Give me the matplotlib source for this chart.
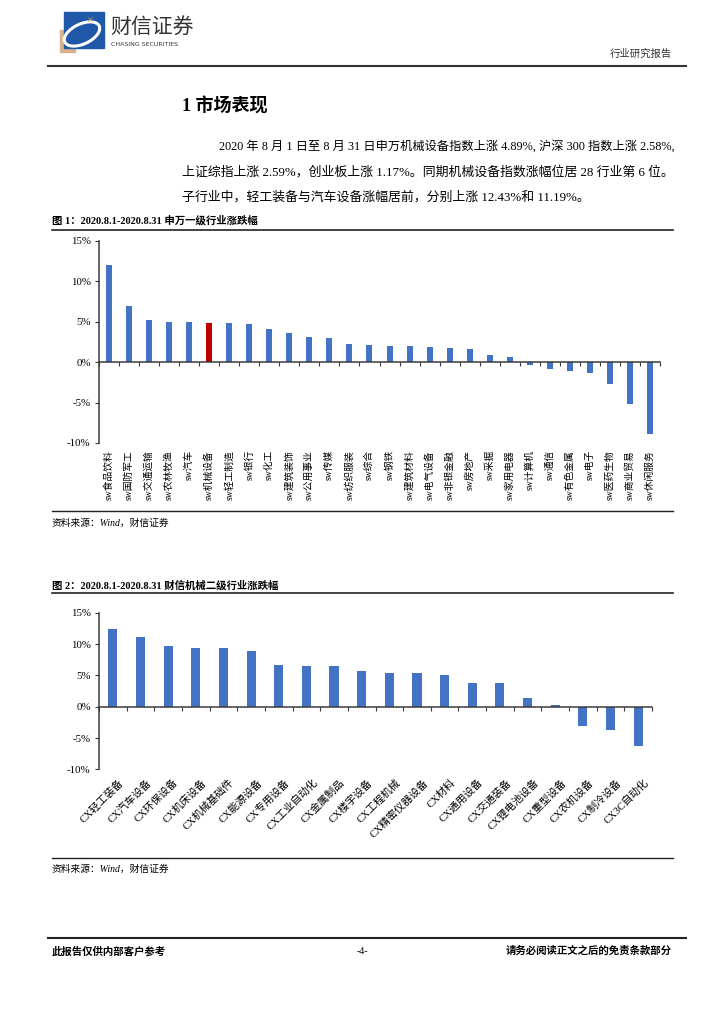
import numpy as np
import matplotlib.pyplot as plt
from matplotlib.patches import Rectangle, Ellipse

W, H = 724, 1024

# 图1 申万一级行业涨跌幅 (%)
sw_names = ['sw食品饮料', 'sw国防军工', 'sw交通运输', 'sw农林牧渔', 'sw汽车', 'sw机械设备',
            'sw轻工制造', 'sw银行', 'sw化工', 'sw建筑装饰', 'sw公用事业', 'sw传媒',
            'sw纺织服装', 'sw综合', 'sw钢铁', 'sw建筑材料', 'sw电气设备', 'sw非银金融',
            'sw房地产', 'sw采掘', 'sw家用电器', 'sw计算机', 'sw通信', 'sw有色金属',
            'sw电子', 'sw医药生物', 'sw商业贸易', 'sw休闲服务']
sw_chg = [12.08, 6.99, 5.28, 5.0, 4.98, 4.89, 4.85, 4.73, 4.07, 3.62, 3.08, 2.96,
          2.3, 2.18, 2.05, 1.97, 1.85, 1.73, 1.6, 0.95, 0.7, -0.29, -0.86, -1.03,
          -1.36, -2.75, -5.14, -8.88]
sw_highlight = 'sw机械设备'

# 图2 财信机械二级行业涨跌幅 (%)
cx_names = ['CX轻工装备', 'CX汽车设备', 'CX环保设备', 'CX机床设备', 'CX机械基础件',
            'CX能源设备', 'CX专用设备', 'CX工业自动化', 'CX金属制品', 'CX楼宇设备',
            'CX工程机械', 'CX精密仪器设备', 'CX材料', 'CX通用设备', 'CX交通装备',
            'CX锂电池设备', 'CX重型设备', 'CX农机设备', 'CX制冷设备', 'CX3C自动化']
cx_chg = [12.43, 11.19, 9.73, 9.31, 9.3, 8.88, 6.7, 6.54, 6.53, 5.64,
          5.37, 5.36, 5.05, 3.72, 3.71, 1.33, 0.32, -3.09, -3.67, -6.2]

yticks = [-10, -5, 0, 5, 10, 15]
ytick_labels = ['-10%', '-5%', '0%', '5%', '10%', '15%']

para = ['2020 年 8 月 1 日至 8 月 31 日申万机械设备指数上涨 4.89%, 沪深 300 指数上涨 2.58%,',
        '上证综指上涨 2.59%，创业板上涨 1.17%。同期机械设备指数涨幅位居 28 行业第 6 位。',
        '子行业中，轻工装备与汽车设备涨幅居前，分别上涨 12.43%和 11.19%。']

FAM = ['Liberation Serif', 'Noto Sans CJK SC']
BLUE = '#4472C4'
RED = '#C00000'
AX = '#3a3a3a'

plt.rcParams['font.family'] = FAM

fig = plt.figure(figsize=(W / 100, H / 100), dpi=100)

# page layer in pixel coordinates
page = fig.add_axes([0, 0, 1, 1])
page.set_xlim(0, W)
page.set_ylim(H, 0)
page.axis('off')

# logo
page.add_patch(Rectangle((60, 30), 15, 22, color='#d9b38e', zorder=1))
page.add_patch(Rectangle((64, 12), 40, 36, color='#1f58a8', zorder=2))
page.add_patch(Ellipse((82, 34), 38, 20, angle=-25, fill=False, ec='white', lw=2.2, zorder=3))
page.text(90, 22, '×', color='#f0a040', fontsize=9, ha='center', va='center', zorder=4)
page.text(110, 27, '财信证券', fontsize=15, color='#333333', va='center', family=['Noto Sans CJK SC'])
page.text(111, 44, 'CHASING SECURITIES', fontsize=4.5, color='#333333', va='center',
          family=['DejaVu Sans'])
page.text(672, 54, '行业研究报告', fontsize=7.5, ha='right', va='center', color='#333333')
page.plot([48, 686], [66, 66], color='#333333', lw=1.5)

page.text(182, 107, '1 市场表现', fontsize=13, weight='bold', va='center')
page.text(219, 146, para[0], fontsize=8.8, va='center')
page.text(182, 172, para[1], fontsize=9.3, va='center')
page.text(182, 197, para[2], fontsize=9.3, va='center')

page.text(52, 220, '图 1：2020.8.1-2020.8.31 申万一级行业涨跌幅', fontsize=7.5, weight='bold', va='center')
page.plot([52, 673], [230, 230], color='#222222', lw=1.2)
page.plot([52, 673], [511, 511], color='#222222', lw=1.0)
page.text(52, 523, '资料来源：Wind，财信证券', fontsize=7, style='italic', va='center')

page.text(52, 585, '图 2：2020.8.1-2020.8.31 财信机械二级行业涨跌幅', fontsize=7.5, weight='bold', va='center')
page.plot([52, 673], [593, 593], color='#222222', lw=1.2)
page.plot([52, 673], [858, 858], color='#222222', lw=1.0)
page.text(52, 869, '资料来源：Wind，财信证券', fontsize=7, style='italic', va='center')

page.plot([48, 686], [938, 938], color='#222222', lw=1.5)
page.text(52, 951, '此报告仅供内部客户参考', fontsize=7.5, weight='bold', va='center')
page.text(362, 951, '-4-', fontsize=7, va='center', ha='center')
page.text(672, 951, '请务必阅读正文之后的免责条款部分', fontsize=7.5, weight='bold', va='center', ha='right')


def bar_axes(box):
    x0, y0, x1, y1 = box
    ax = fig.add_axes([x0 / W, 1 - y1 / H, (x1 - x0) / W, (y1 - y0) / H])
    ax.patch.set_alpha(0)
    ax.set_ylim(-10, 15)
    ax.set_yticks(yticks)
    ax.set_yticklabels(ytick_labels, fontsize=7.8)
    for s in ['top', 'right']:
        ax.spines[s].set_visible(False)
    ax.spines['bottom'].set_position(('data', 0))
    for s in ['left', 'bottom']:
        ax.spines[s].set_color(AX)
        ax.spines[s].set_linewidth(1.1)
    ax.tick_params(axis='y', direction='out', length=3, color=AX, pad=3)
    ax.tick_params(axis='x', direction='out', length=3, color=AX, labelbottom=False)
    return ax


# chart 1
ax1 = bar_axes((99, 241, 660, 443))
n1 = len(sw_names)
x1 = np.arange(n1)
cols = [RED if s == sw_highlight else BLUE for s in sw_names]
ax1.bar(x1, sw_chg, width=0.3, color=cols)
ax1.set_xlim(-0.5, n1 - 0.5)
ax1.set_xticks(np.arange(-0.5, n1, 1))
for i, s in enumerate(sw_names):
    ax1.text(i, -0.035, s, transform=ax1.get_xaxis_transform(), rotation=90,
             ha='center', va='top', fontsize=7.0)

# chart 2
ax2 = bar_axes((99, 612.7, 652, 769.4))
n2 = len(cx_names)
x2 = np.arange(n2)
ax2.bar(x2, cx_chg, width=0.33, color=BLUE)
ax2.set_xlim(-0.5, n2 - 0.5)
ax2.set_xticks(np.arange(-0.5, n2, 1))
for i, s in enumerate(cx_names):
    ax2.text(i + 0.2, -0.05, s, transform=ax2.get_xaxis_transform(), rotation=45,
             rotation_mode='anchor', ha='right', va='top', fontsize=7.6)

fig.savefig('out.png', dpi=100)
